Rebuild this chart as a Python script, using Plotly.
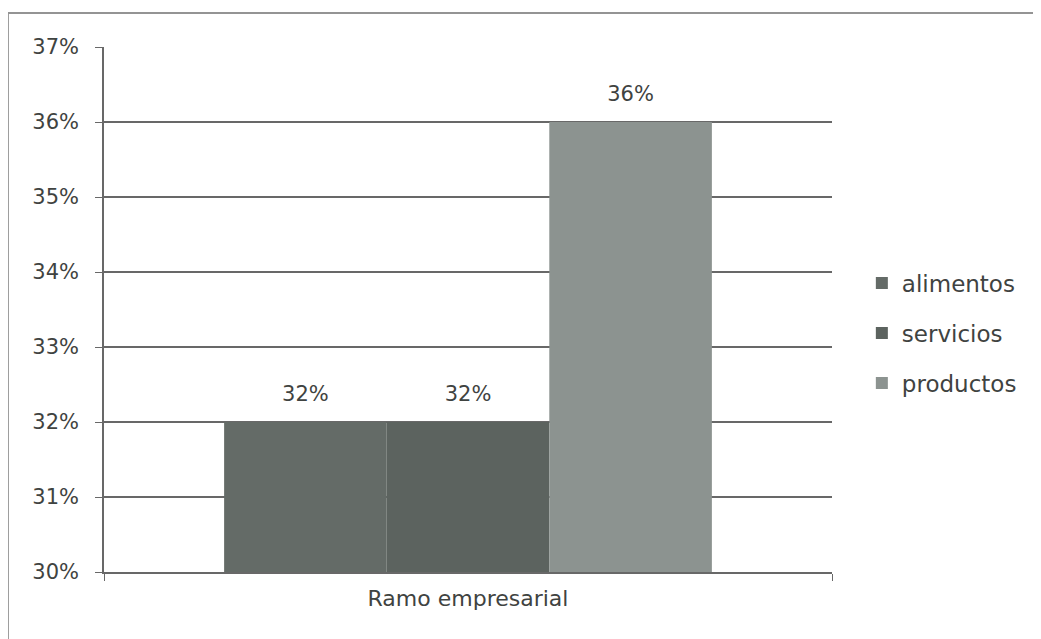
import plotly.graph_objects as go

categories = ["Ramo empresarial"]
series_names = ["alimentos", "servicios", "productos"]
series_values = [[0.32], [0.32], [0.36]]
series_colors = ["#646b67", "#5c635f", "#8c9390"]
y_ticks = [0.30, 0.31, 0.32, 0.33, 0.34, 0.35, 0.36, 0.37]

FONT = "'DejaVu Sans', sans-serif"
TEXT = "#3f4341"
LINE = "#686868"

fig = go.Figure()
for i, (name, vals, col) in enumerate(zip(series_names, series_values, series_colors)):
    fig.add_trace(go.Bar(
        x=categories, y=vals, name=name, offsetgroup=str(i),
        legendgroup=name,
        marker=dict(color=col, line=dict(width=0)),
        hoverinfo="skip",
    ))
for i, (name, vals) in enumerate(zip(series_names, series_values)):
    fig.add_trace(go.Scatter(
        x=categories, y=vals, mode="markers+text", offsetgroup=str(i),
        text=[f"{v:.0%}" for v in vals], textposition="top center",
        textfont=dict(size=21, color=TEXT, family=FONT),
        marker=dict(size=24, opacity=0), showlegend=False,
        cliponaxis=False, hoverinfo="skip",
    ))

fig.update_layout(
    width=1033, height=631,
    margin=dict(l=96, r=209, t=39, b=67),
    paper_bgcolor="white", plot_bgcolor="white",
    barmode="group", bargap=0.33, bargroupgap=0,
    scattermode="group", scattergap=0.33,
    font=dict(family=FONT, size=21, color=TEXT),
    showlegend=True,
    legend=dict(x=1.041, xanchor="left", y=0.455, yanchor="middle",
                font=dict(size=23, color=TEXT, family=FONT),
                tracegroupgap=17, itemwidth=30, bgcolor="rgba(0,0,0,0)"),
)
fig.update_yaxes(
    range=[0.30, 0.37], tickvals=y_ticks, tickformat=".0%",
    showgrid=True, gridcolor=LINE, gridwidth=1.6,
    showline=True, linecolor=LINE, linewidth=1.6,
    ticks="outside", ticklen=7, tickcolor=LINE,
    ticklabelstandoff=12, zeroline=False,
    tickfont=dict(size=21, color=TEXT, family=FONT),
)
fig.update_xaxes(
    showline=True, linecolor=LINE, linewidth=1.6,
    ticks="outside", tickson="boundaries", ticklen=7, tickcolor=LINE,
    showgrid=False, ticklabelstandoff=6,
    tickfont=dict(size=22, color=TEXT, family=FONT),
)
fig.add_shape(type="rect", xref="paper", yref="paper",
              x0=-0.132, x1=1.30, y0=-0.15, y1=1.065,
              line=dict(color="#949494", width=2), layer="below")

fig.write_html("out.html")
